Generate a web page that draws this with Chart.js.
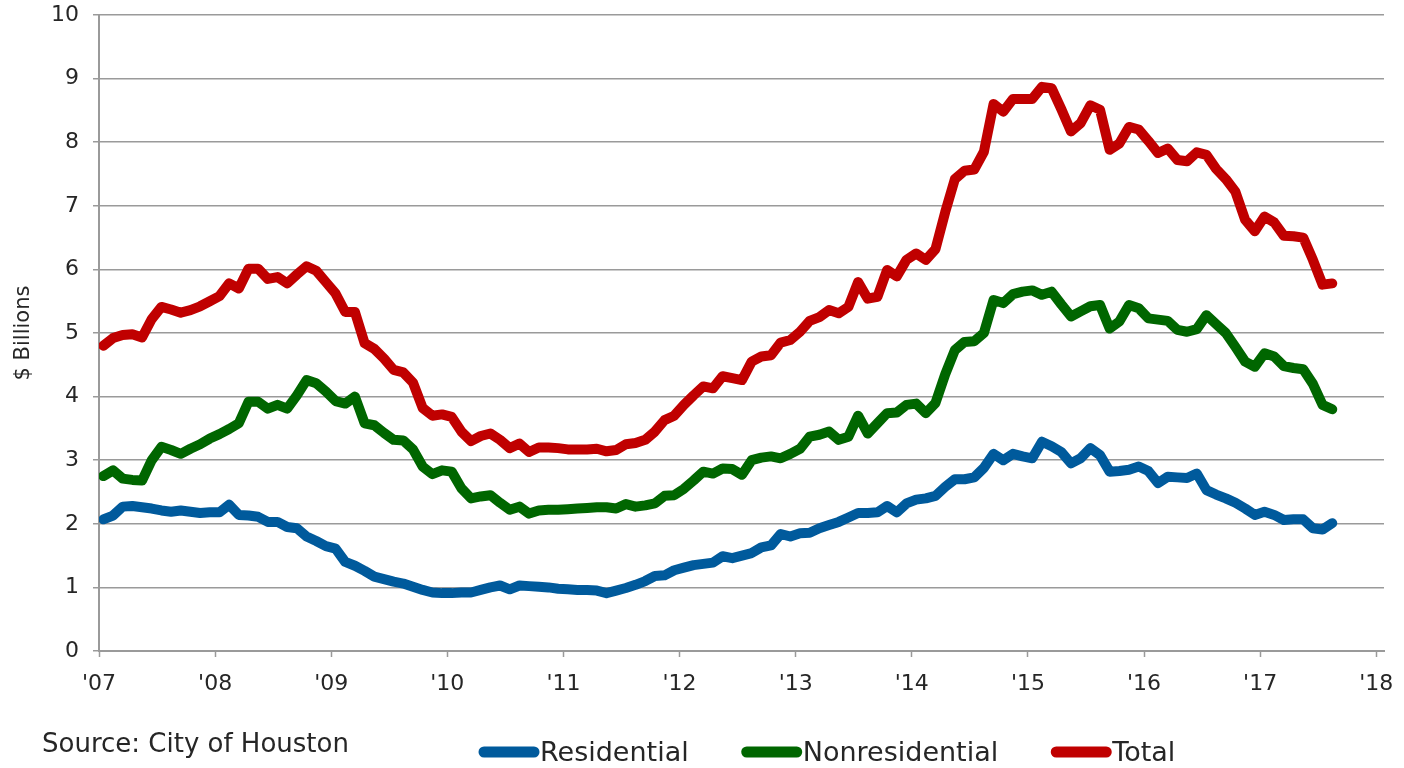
<!DOCTYPE html>
<html>
<head>
<meta charset="utf-8">
<script src="https://cdn.jsdelivr.net/npm/chart.js@4.4.1/dist/chart.umd.min.js"></script>
<style>
  html, body { margin: 0; padding: 0; background: #fff; }
  #wrap { width: 1404px; height: 768px; }
</style>
</head>
<body>
<div id="wrap"><canvas id="myChart" width="1404" height="768"></canvas></div>
<script>
// monthly values, Jan 2007 - Aug 2017 ($ billions)
const yearLabels = ["'07", "'08", "'09", "'10", "'11", "'12", "'13", "'14", "'15", "'16", "'17", "'18"];

const residential = [
  2.07, 2.13, 2.27, 2.28, 2.26, 2.24, 2.21, 2.19, 2.21, 2.19, 2.17, 2.18,
  2.18, 2.30, 2.14, 2.13, 2.11, 2.03, 2.03, 1.95, 1.93, 1.80, 1.73, 1.65,
  1.61, 1.40, 1.34, 1.26, 1.17, 1.13, 1.09, 1.06, 1.01, 0.96, 0.92, 0.91,
  0.91, 0.92, 0.92, 0.96, 1.00, 1.03, 0.97, 1.03, 1.02, 1.01, 1.00, 0.98,
  0.97, 0.96, 0.96, 0.95, 0.91, 0.95, 0.99, 1.04, 1.10, 1.18, 1.19, 1.27,
  1.31, 1.35, 1.37, 1.39, 1.49, 1.46, 1.50, 1.54, 1.63, 1.66, 1.84, 1.80,
  1.85, 1.86, 1.93, 1.98, 2.03, 2.10, 2.17, 2.17, 2.18, 2.28, 2.18, 2.32,
  2.38, 2.40, 2.44, 2.58, 2.70, 2.70, 2.73, 2.88, 3.10, 3.00, 3.10, 3.06,
  3.03, 3.29, 3.22, 3.13, 2.95, 3.03, 3.19, 3.08, 2.82, 2.83, 2.85, 2.90,
  2.83, 2.64, 2.74, 2.73, 2.72, 2.79, 2.53, 2.46, 2.40, 2.33, 2.24, 2.14,
  2.19, 2.14, 2.06, 2.07, 2.07, 1.93, 1.91, 2.01
];

const nonresidential = [
  2.75, 2.84, 2.71, 2.69, 2.68, 3.00, 3.21, 3.16, 3.10, 3.18, 3.25, 3.34,
  3.41, 3.49, 3.58, 3.92, 3.92, 3.81, 3.87, 3.81, 4.02, 4.26, 4.21, 4.08,
  3.93, 3.89, 4.00, 3.58, 3.55, 3.43, 3.32, 3.31, 3.17, 2.90, 2.78, 2.84,
  2.82, 2.56, 2.40, 2.43, 2.45, 2.33, 2.22, 2.27, 2.16, 2.21, 2.22, 2.22,
  2.23, 2.24, 2.25, 2.26, 2.26, 2.24, 2.31, 2.27, 2.29, 2.32, 2.44, 2.45,
  2.55, 2.68, 2.82, 2.79, 2.87, 2.86, 2.77, 3.00, 3.04, 3.06, 3.03, 3.10,
  3.18, 3.37, 3.40, 3.45, 3.32, 3.37, 3.70, 3.42, 3.58, 3.74, 3.75, 3.87,
  3.89, 3.74, 3.90, 4.35, 4.73, 4.86, 4.87, 5.00, 5.52, 5.47, 5.61, 5.65,
  5.67, 5.60, 5.65, 5.45, 5.26, 5.34, 5.42, 5.44, 5.07, 5.18, 5.44, 5.39,
  5.23, 5.21, 5.19, 5.05, 5.02, 5.06, 5.28, 5.14, 5.00, 4.78, 4.55, 4.47,
  4.68, 4.63, 4.48, 4.45, 4.43, 4.20, 3.87, 3.80
];

const total = [
  4.80, 4.92, 4.97, 4.98, 4.93, 5.22, 5.41, 5.37, 5.32, 5.36, 5.42, 5.50,
  5.58, 5.78, 5.70, 6.01, 6.01, 5.85, 5.88, 5.78, 5.92, 6.05, 5.98, 5.80,
  5.62, 5.33, 5.33, 4.84, 4.75, 4.60, 4.42, 4.38, 4.22, 3.82, 3.70, 3.72,
  3.68, 3.45, 3.30, 3.38, 3.42, 3.32, 3.19, 3.26, 3.13, 3.20, 3.20, 3.19,
  3.17, 3.17, 3.17, 3.18, 3.14, 3.16, 3.25, 3.27, 3.32, 3.45, 3.63, 3.70,
  3.87, 4.02, 4.16, 4.13, 4.32, 4.29, 4.26, 4.55, 4.63, 4.65, 4.85, 4.89,
  5.02, 5.19, 5.25, 5.36, 5.31, 5.41, 5.80, 5.54, 5.57, 5.99, 5.89, 6.15,
  6.25, 6.15, 6.32, 6.90, 7.42, 7.55, 7.57, 7.85, 8.60, 8.48, 8.68, 8.68,
  8.68, 8.87, 8.85, 8.52, 8.17, 8.30, 8.58, 8.51, 7.88, 7.98, 8.24, 8.20,
  8.02, 7.83, 7.90, 7.72, 7.70, 7.84, 7.80, 7.58, 7.42, 7.22, 6.78, 6.60,
  6.83, 6.74, 6.53, 6.52, 6.50, 6.15, 5.76, 5.78
];

const seriesNames = ["Residential", "Nonresidential", "Total"];
const seriesColors = ["#005A9C", "#006600", "#C00000"];

const FONT = '"DejaVu Sans", sans-serif';
const TEXT = "#262626";
const GRID = "#9a9a9a";

// months counted from Jan 2007, plotted mid-month
function toPoints(values) {
  return values.map((v, i) => ({ x: i + 0.45, y: v }));
}

function makeDataset(label, values, color) {
  return {
    label: label,
    data: toPoints(values),
    borderColor: color,
    backgroundColor: color,
    borderWidth: 10,
    borderCapStyle: "round",
    borderJoinStyle: "round",
    pointRadius: 0,
    tension: 0,
    fill: false,
  };
}

// source note + legend under the axis
const footerPlugin = {
  id: "footer",
  afterDraw(chart) {
    const ctx = chart.ctx;
    ctx.save();
    ctx.fillStyle = TEXT;
    ctx.textBaseline = "middle";
    ctx.font = "26px " + FONT;
    ctx.fillText("Source: City of Houston", 42, 745);

    ctx.font = "27px " + FONT;
    let x = 478;
    const y = 752;
    chart.data.datasets.forEach((ds) => {
      ctx.strokeStyle = ds.borderColor;
      ctx.lineWidth = 11;
      ctx.lineCap = "round";
      ctx.beginPath();
      ctx.moveTo(x + 6, y);
      ctx.lineTo(x + 56, y);
      ctx.stroke();
      x += 62;
      ctx.fillStyle = TEXT;
      ctx.fillText(ds.label, x, y + 2);
      x += ctx.measureText(ds.label).width + 52;
    });
    ctx.restore();
  },
};

const ctx = document.getElementById("myChart");
new Chart(ctx, {
  type: "line",
  data: {
    datasets: [
      makeDataset(seriesNames[0], residential, seriesColors[0]),
      makeDataset(seriesNames[1], nonresidential, seriesColors[1]),
      makeDataset(seriesNames[2], total, seriesColors[2]),
    ],
  },
  options: {
    responsive: false,
    devicePixelRatio: 1,
    animation: false,
    layout: { padding: { top: 15, right: 20, left: 0, bottom: 0 } },
    plugins: {
      legend: { display: false },
      tooltip: { enabled: false },
    },
    scales: {
      x: {
        type: "linear",
        min: 0,
        max: 132.8,
        afterBuildTicks(scale) {
          scale.ticks = yearLabels.map((_, k) => ({ value: k * 12 }));
        },
        afterFit(scale) {
          scale.height = 117;
          scale.paddingLeft = 0;
          scale.paddingRight = 0;
        },
        grid: {
          drawOnChartArea: false,
          drawTicks: true,
          tickLength: 6,
          tickWidth: 1.5,
          tickColor: GRID,
        },
        border: { color: GRID, width: 2 },
        ticks: {
          autoSkip: false,
          maxRotation: 0,
          padding: 14,
          color: TEXT,
          font: { family: FONT, size: 22 },
          callback: (v) => yearLabels[Math.round(v / 12)],
        },
      },
      y: {
        min: 0,
        max: 10,
        afterFit(scale) {
          scale.width = 99;
          scale.paddingTop = 0;
          scale.paddingBottom = 0;
        },
        grid: {
          color: GRID,
          lineWidth: 1.5,
          tickLength: 6,
        },
        border: { color: GRID, width: 2 },
        ticks: {
          stepSize: 1,
          padding: 14,
          color: TEXT,
          font: { family: FONT, size: 22 },
        },
        title: {
          display: true,
          text: "$ Billions",
          color: TEXT,
          font: { family: FONT, size: 21 },
          padding: { top: 11, bottom: 0 },
        },
      },
    },
  },
  plugins: [footerPlugin],
});
</script>
</body>
</html>
